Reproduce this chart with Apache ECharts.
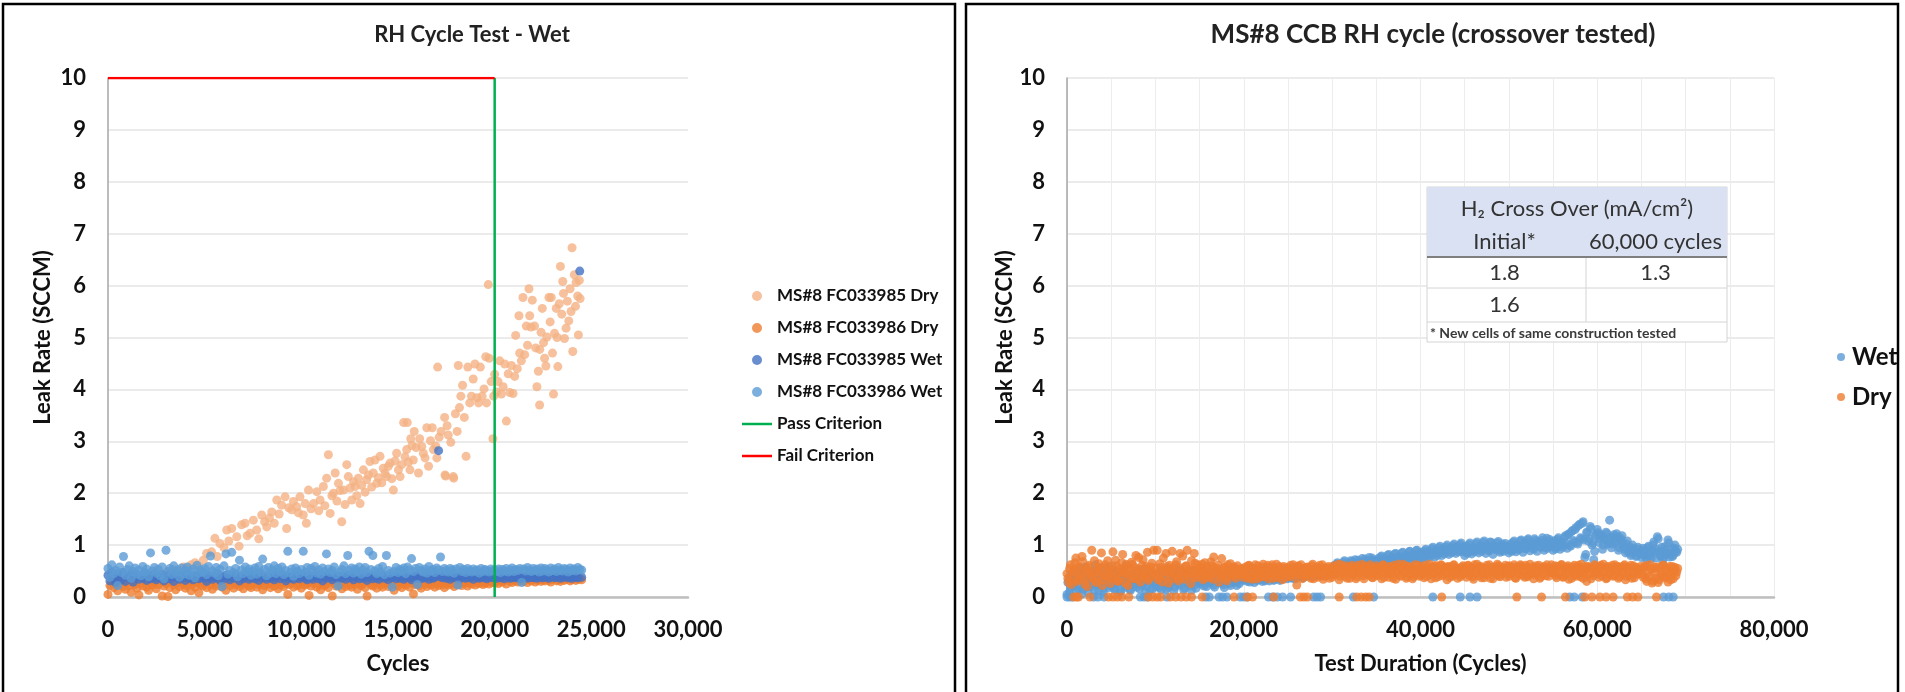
<!DOCTYPE html>
<html><head><meta charset="utf-8">
<script src="https://cdn.jsdelivr.net/npm/echarts@6/dist/echarts.min.js"></script>
<style>html,body{margin:0;padding:0;background:#fff}#c{width:1905px;height:692px}</style>
</head><body><div id="c"></div>
<script>
// ---------------- Left chart: RH Cycle Test - Wet ----------------
const leftTitle = 'RH Cycle Test - Wet';
const leftXTicks = {min: 0, max: 30000, step: 5000};
const yTicks = {min: 0, max: 10, step: 1};
const seriesNamesLeft = ['MS#8 FC033985 Dry', 'MS#8 FC033986 Dry', 'MS#8 FC033985 Wet', 'MS#8 FC033986 Wet', 'Pass Criterion', 'Fail Criterion'];
const passCriterionCycles = 20000;
const failCriterionLeak = 10;

// FC033985 Dry (cycles, leak)
const dryA = [[200,0.35],[600,0.28],[1000,0.42],[1250,0.25],[1500,0.38],[1900,0.31],[2300,0.45],[2700,0.33],[3100,0.48],[3400,0.52],[3700,0.44],[3900,0.58],[4100,0.55],[4300,0.62],[4500,0.66],[4700,0.59],
[4930,0.71],[5100,0.84],[5360,0.87],[5530,1.13],[5790,1.03],[5650,0.78],[6000,0.95],[6140,1.29],[6250,1.08],[6400,1.32],[6660,1.16],[6780,0.98],[6910,1.39],[7090,1.42],[7200,1.18],[7350,1.23],[7520,1.48],[7690,1.29],[7800,1.12],[7950,1.58],[8100,1.45],[8210,1.35],[8350,1.52],[8470,1.64],[8600,1.42],[8730,1.87],[8850,1.60],[8980,1.77],[9160,1.93],[9240,1.32],[9350,1.72],[9500,1.68],[9590,1.84],[9760,1.74],[9850,1.62],[9930,1.93],[10100,1.58],[10200,1.80],[10260,1.42],[10370,2.06],[10500,1.70],[10630,1.80],[10800,2.03],[10900,1.66],[10970,1.87],[11140,2.13],[11220,1.76],[11310,2.29],[11400,2.74],[11490,1.61],[11580,1.95],[11660,2.00],[11750,2.39],[11840,1.85],[11920,2.19],[12000,2.05],[12090,1.45],[12180,2.06],[12260,1.78],[12350,2.55],[12430,2.32],[12520,2.10],[12610,1.87],[12700,2.22],[12780,2.13],[12870,1.95],[12950,2.29],[13040,1.80],[13120,2.15],[13210,2.45],[13300,2.02],[13380,2.26],[13470,2.35],[13550,2.61],[13640,2.12],[13720,2.39],[13810,2.64],[13900,2.19],[13980,2.30],[14070,2.71],[14160,2.20],[14240,2.48],[14330,2.38],[14410,2.32],[14500,2.52],[14590,2.58],[14680,2.28],[14760,2.06],[14850,2.62],[14930,2.77],[15020,2.45],[15110,2.32],[15190,2.55],[15290,3.36],[15360,2.70],[15450,2.84],[15480,3.36],[15540,2.60],[15620,2.45],[15660,3.05],[15720,2.92],[15790,2.64],[15840,3.19],[15940,2.88],[16060,2.39],[16120,3.05],[16230,2.90],[16310,2.77],[16400,2.68],[16490,3.26],[16580,2.52],[16680,3.01],[16770,3.26],[16830,2.84],[16950,2.91],[17010,2.68],[17050,4.43],[17130,3.08],[17230,3.19],[17410,3.46],[17430,2.35],[17470,2.33],[17540,3.30],[17600,3.12],[17730,2.98],[17860,2.32],[17880,2.29],[17970,3.53],[18060,3.19],[18120,4.46],[18180,3.65],[18250,3.87],[18340,4.08],[18430,3.46],[18520,2.71],[18610,4.43],[18710,3.74],[18800,3.87],[18890,4.20],[18980,4.49],[19080,3.84],[19170,3.74],[19260,4.43],[19350,3.87],[19450,4.01],[19540,4.63],[19580,3.74],[19670,6.02],[19720,4.60],[19820,4.15],[19910,3.05],[19950,3.87],[20000,4.29],
[20090,3.95],[20175,4.15],[20260,4.55],[20350,3.91],[20440,4.05],[20522,4.49],[20606,3.39],[20700,4.30],[20780,3.94],[20863,4.46],[20950,3.92],[21033,4.25],[21085,5.04],[21170,4.40],[21256,5.42],[21292,4.70],[21380,4.55],[21463,5.77],[21551,4.67],[21636,5.22],[21700,4.85],[21775,5.94],[21811,5.42],[21880,5.20],[21946,5.72],[22065,5.22],[22120,4.80],[22184,4.05],[22260,4.35],[22324,3.70],[22330,4.77],[22400,5.10],[22464,5.56],[22530,4.90],[22583,4.60],[22650,4.45],[22702,5.01],[22806,5.77],[22870,5.30],[22925,5.77],[22990,4.70],[23044,3.91],[23096,5.08],[23184,5.56],[23230,5.00],[23267,4.44],[23340,5.65],[23402,6.37],[23470,5.45],[23522,6.08],[23560,5.85],[23610,4.98],[23693,5.18],[23760,5.70],[23832,5.32],[23900,5.94],[23950,5.50],[24003,6.73],[24039,4.73],[24122,6.21],[24180,5.60],[24210,6.06],[24293,5.80],[24330,5.05],[24380,6.10],[24420,5.75]];

// Low series, sampled every 100 cycles from 0
const lowStepCycles = 100;
const dryB = [
0.05,0.22,0.31,0.18,0.27,0.12,0.25,0.33,0.20,0.15,0.28,0.22,0.09,0.30,0.24,0.17,0.04,0.26,0.21,0.32,0.19,0.13,0.27,0.23,0.29,
0.16,0.24,0.31,0.02,0.21,0.26,0.01,0.18,0.29,0.23,0.14,0.27,0.20,0.33,0.25,0.17,0.22,0.30,0.12,0.26,0.19,0.28,0.08,0.24,0.21,
0.27,0.18,0.32,0.23,0.15,0.29,0.21,0.25,0.34,0.19,0.26,0.13,0.28,0.22,0.31,0.17,0.24,0.27,0.20,0.30,0.16,0.25,0.29,0.21,0.18,
0.26,0.33,0.19,0.24,0.28,0.14,0.22,0.30,0.25,0.18,0.27,0.21,0.31,0.16,0.23,0.29,0.20,0.26,0.05,0.24,0.28,0.19,0.32,0.22,0.25,
0.17,0.29,0.23,0.26,0.03,0.21,0.27,0.31,0.19,0.24,0.14,0.28,0.22,0.25,0.18,0.30,0.02,0.26,0.21,0.33,0.24,0.16,0.28,0.20,0.27,
0.23,0.19,0.31,0.25,0.15,0.28,0.22,0.26,0.18,0.02,0.30,0.24,0.21,0.27,0.17,0.29,0.23,0.19,0.26,0.32,0.20,0.24,0.28,0.13,0.25,
0.21,0.29,0.18,0.26,0.23,0.31,0.19,0.27,0.06,0.24,0.28,0.22,0.17,0.30,0.25,0.20,0.27,0.23,0.32,0.19,0.26,0.22,0.29,0.24,0.18,
0.27,0.23,0.30,0.25,0.20,0.28,0.24,0.31,0.22,0.26,0.29,0.21,0.27,0.25,0.32,0.23,0.28,0.26,0.30,0.24,0.27,0.29,0.25,0.31,0.28,
0.27,0.31,0.26,0.33,0.29,0.32,0.25,0.34,0.30,0.28,0.33,0.31,0.29,0.35,0.32,0.30,0.34,0.28,0.33,0.31,0.36,0.29,0.32,0.34,0.30,
0.33,0.31,0.35,0.32,0.29,0.34,0.36,0.31,0.33,0.30,0.35,0.32,0.34,0.37,0.31,0.33,0.36,0.32,0.34,0.35,0.33];
const wetA = [
0.42,0.31,0.48,0.36,0.28,0.44,0.39,0.33,0.47,0.30,0.41,0.37,0.45,0.29,0.38,0.43,0.34,0.40,0.36,0.46,0.32,0.39,0.35,0.42,0.37,
0.33,0.40,0.36,0.44,0.31,0.38,0.42,0.35,0.39,0.30,0.43,0.37,0.34,0.41,0.38,0.32,0.45,0.36,0.40,0.33,0.39,0.42,0.35,0.38,0.41,
0.36,0.30,0.43,0.38,0.34,0.40,0.37,0.45,0.32,0.39,0.35,0.42,0.38,0.33,0.41,0.36,0.44,0.37,0.31,0.40,0.35,0.39,0.43,0.34,0.38,
0.41,0.35,0.38,0.32,0.44,0.37,0.40,0.34,0.39,0.36,0.42,0.33,0.38,0.41,0.35,0.43,0.37,0.31,0.40,0.36,0.39,0.34,0.42,0.38,0.35,
0.39,0.43,0.36,0.33,0.40,0.37,0.34,0.41,0.38,0.35,0.42,0.31,0.39,0.36,0.44,0.37,0.33,0.40,0.38,0.35,0.41,0.36,0.39,0.34,0.42,
0.37,0.40,0.33,0.38,0.43,0.35,0.39,0.36,0.41,0.32,0.38,0.42,0.35,0.40,0.37,0.34,0.39,0.43,0.36,0.38,0.33,0.41,0.37,0.40,0.35,
0.39,0.36,0.42,0.34,0.38,0.41,0.37,0.33,0.40,0.36,0.43,0.38,0.35,0.39,0.37,0.42,0.34,0.40,0.36,0.38,0.41,2.82,0.39,0.37,0.43,
0.36,0.40,0.34,0.38,0.42,0.37,0.39,0.35,0.41,0.38,0.36,0.40,0.37,0.39,0.34,0.41,0.38,0.36,0.40,0.37,0.39,0.35,0.38,0.41,0.37,
0.38,0.36,0.40,0.37,0.39,0.35,0.41,0.38,0.36,0.40,0.37,0.39,0.38,0.35,0.41,0.37,0.39,0.36,0.40,0.38,0.37,0.39,0.36,0.41,0.38,
0.37,0.40,0.38,0.36,0.39,0.41,0.37,0.38,0.40,0.36,0.39,0.38,0.41,0.37,0.39,0.36,0.40,0.38,0.37,6.28,0.38];
const wetB = [
0.55,0.38,0.62,0.45,0.51,0.22,0.58,0.47,0.78,0.42,0.53,0.60,0.36,0.49,0.56,0.44,0.52,0.41,0.59,0.48,0.54,0.39,0.85,0.50,0.57,
0.46,0.53,0.41,0.58,0.35,0.90,0.49,0.55,0.43,0.60,0.47,0.52,0.38,0.56,0.44,0.51,0.58,0.42,0.49,0.54,0.37,0.61,0.46,0.52,0.48,
0.55,0.43,0.59,0.79,0.50,0.46,0.57,0.41,0.53,0.20,0.60,0.83,0.44,0.51,0.86,0.47,0.55,0.39,0.71,0.52,0.45,0.58,0.49,0.54,0.42,
0.50,0.56,0.44,0.59,0.48,0.73,0.53,0.41,0.57,0.46,0.52,0.60,0.45,0.55,0.49,0.58,0.43,0.51,0.88,0.47,0.54,0.40,0.56,0.50,0.45,
0.53,0.88,0.48,0.57,0.42,0.55,0.50,0.59,0.46,0.52,0.44,0.56,0.49,0.83,0.54,0.47,0.51,0.58,0.43,0.21,0.48,0.53,0.60,0.45,0.80,
0.51,0.56,0.46,0.54,0.49,0.58,0.44,0.52,0.57,0.47,0.88,0.53,0.80,0.50,0.45,0.55,0.48,0.59,0.43,0.80,0.51,0.46,0.19,0.49,0.57,
0.47,0.53,0.50,0.56,0.45,0.58,0.52,0.74,0.49,0.55,0.24,0.57,0.51,0.48,0.54,0.46,0.59,0.50,0.53,0.47,0.56,0.52,0.77,0.49,0.55,
0.51,0.48,0.55,0.52,0.46,0.54,0.23,0.57,0.49,0.53,0.47,0.55,0.51,0.48,0.54,0.50,0.52,0.46,0.55,0.49,0.53,0.51,0.48,0.54,0.50,
0.52,0.49,0.54,0.47,0.53,0.50,0.55,0.48,0.52,0.56,0.49,0.53,0.51,0.55,0.28,0.54,0.50,0.57,0.52,0.49,0.55,0.51,0.54,0.48,0.56,
0.50,0.55,0.52,0.48,0.56,0.51,0.54,0.49,0.57,0.52,0.50,0.55,0.53,0.48,0.56,0.51,0.54,0.50,0.57,0.53,0.52];

// ---------------- Right chart: MS#8 CCB RH cycle ----------------
const rightTitle = 'MS#8 CCB RH cycle (crossover tested)';
const rightXTicks = {min: 0, max: 80000, step: 20000, minorSplit: 4};
const seriesNamesRight = ['Wet', 'Dry'];
// readings every 200 cycles starting at 0 ("even") and starting at 100 ("odd")
const rightStepCycles = 200;
const wetEven = [
0.05,0.32,0.18,0.45,0.26,0.12,0.38,0.22,0.55,0.15,0.41,0.29,0.08,0.35,0.20,0.48,0.62,0.24,0.11,0.39,0.30,0.17,0.44,0.27,0.58,
0.21,0.36,0.14,0.47,0.28,0.09,0.33,0.52,0.19,0.40,0.25,0.13,0.37,0.23,0.46,0.31,0.16,0.42,0.27,0.55,0.20,0.34,0.12,0.39,0.29,
0.24,0.43,0.18,0.35,0.50,0.27,0.15,0.38,0.22,0.45,0.31,0.19,0.41,0.26,0.53,0.33,0.14,0.37,0.28,0.46,0.21,0.40,0.30,0.17,0.44,
0.32,0.25,0.48,0.36,0.20,0.42,0.29,0.38,0.23,0.45,0.34,0.27,0.40,0.31,0.18,0.43,0.35,0.26,0.41,0.30,0.37,0.22,0.44,0.33,0.39,
0.36,0.42,0.30,0.39,0.34,0.45,0.28,0.40,0.37,0.33,0.43,0.38,0.31,0.41,0.35,0.44,0.39,0.32,0.42,0.37,0.46,0.34,0.40,0.38,0.43,
0.41,0.37,0.45,0.40,0.35,0.44,0.39,0.47,0.42,0.38,0.46,0.41,0.48,0.43,0.40,0.49,0.45,0.42,0.50,0.46,0.44,0.51,0.47,0.52,0.49,
0.45,0.60,0.50,0.66,0.48,0.62,0.55,0.70,0.52,0.64,0.47,0.68,0.58,0.72,0.53,0.66,0.60,0.74,0.56,0.69,0.62,0.76,0.58,0.71,0.65,
0.60,0.74,0.66,0.79,0.62,0.72,0.68,0.82,0.64,0.76,0.70,0.84,0.66,0.78,0.72,0.86,0.68,0.80,0.74,0.88,0.70,0.82,0.76,0.90,0.73,
0.72,0.86,0.78,0.92,0.75,0.88,0.82,0.96,0.77,0.90,0.84,0.98,0.80,0.93,0.86,1.00,0.82,0.95,0.88,1.02,0.84,0.97,0.90,1.04,0.87,
0.80,0.98,0.86,1.04,0.83,0.95,0.90,1.06,0.85,0.99,0.92,1.08,0.84,0.97,0.89,1.05,0.82,0.96,0.91,1.07,0.86,1.00,0.88,1.03,0.93,
0.85,1.02,0.90,1.08,0.87,0.99,0.93,1.10,0.86,1.04,0.95,1.12,0.89,1.01,0.92,1.09,0.88,1.05,0.96,1.14,0.90,1.03,0.94,1.11,0.98,
0.90,1.08,0.96,1.14,0.92,1.05,1.00,1.18,0.94,1.22,0.98,1.28,1.06,1.34,1.02,1.40,1.12,1.45,0.76,1.25,1.08,1.36,1.00,0.72,1.18,
1.30,1.05,1.20,0.92,1.15,1.25,1.02,1.48,0.95,1.16,1.04,1.22,0.90,1.10,1.18,0.97,0.85,1.08,0.90,0.80,1.00,0.87,0.78,0.96,0.84,
0.76,0.94,0.82,0.72,0.98,0.80,0.90,1.06,0.75,1.16,0.88,0.79,0.70,0.97,0.84,1.10,0.77,0.95,0.81,1.00,0.86];
const wetOdd = [
0.28,0.10,0.40,0.21,0.52,0.33,0.16,0.45,0.06,0.30,0.58,0.19,0.37,0.25,0.49,0.13,0.34,0.43,0.22,0.56,0.09,0.31,0.47,0.18,0.40,
0.35,0.17,0.50,0.26,0.41,0.12,0.38,0.23,0.60,0.30,0.15,0.44,0.27,0.36,0.19,0.53,0.33,0.22,0.48,0.11,0.39,0.28,0.45,0.16,0.34,
0.20,0.47,0.31,0.14,0.39,0.25,0.55,0.18,0.42,0.29,0.12,0.36,0.49,0.23,0.33,0.41,0.17,0.46,0.26,0.38,0.13,0.51,0.24,0.35,0.28,
0.41,0.30,0.21,0.46,0.35,0.27,0.50,0.33,0.19,0.39,0.44,0.28,0.36,0.24,0.47,0.31,0.40,0.22,0.37,0.45,0.29,0.34,0.26,0.42,0.32,
0.39,0.33,0.44,0.29,0.41,0.36,0.47,0.32,0.38,0.43,0.30,0.40,0.35,0.46,0.31,0.42,0.37,0.34,0.45,0.39,0.32,0.44,0.36,0.41,0.35,
0.44,0.40,0.36,0.48,0.42,0.39,0.46,0.43,0.37,0.50,0.44,0.41,0.47,0.39,0.51,0.45,0.43,0.48,0.41,0.53,0.47,0.44,0.50,0.46,0.54,
0.56,0.49,0.63,0.53,0.58,0.51,0.67,0.57,0.61,0.54,0.70,0.59,0.63,0.56,0.71,0.61,0.65,0.58,0.73,0.63,0.67,0.60,0.75,0.66,0.69,
0.70,0.63,0.77,0.68,0.73,0.65,0.80,0.71,0.75,0.67,0.83,0.73,0.77,0.70,0.85,0.75,0.79,0.72,0.87,0.77,0.81,0.74,0.89,0.80,0.84,
0.80,0.74,0.89,0.81,0.85,0.78,0.93,0.83,0.87,0.80,0.95,0.86,0.90,0.83,0.97,0.88,0.92,0.85,0.99,0.90,0.94,0.87,1.01,0.92,0.96,
0.91,0.84,1.01,0.89,0.94,0.87,1.03,0.92,0.97,0.88,1.05,0.94,0.99,0.90,1.06,0.95,1.00,0.92,1.04,0.96,0.89,1.02,0.94,0.98,0.91,
0.96,0.88,1.05,0.94,1.00,0.91,1.08,0.97,1.02,0.93,1.10,0.99,1.04,0.95,1.12,1.01,1.06,0.97,1.09,1.03,0.95,1.13,1.00,1.07,0.98,
1.02,0.93,1.11,0.99,1.06,0.96,1.15,1.03,1.20,1.00,1.26,1.09,1.30,1.05,1.38,1.14,1.42,1.10,0.82,1.24,1.12,1.32,1.04,0.88,1.21,
1.24,1.12,1.18,1.00,1.10,1.22,1.06,1.14,1.02,1.20,1.08,1.16,0.95,1.12,1.04,0.92,1.02,0.86,0.96,0.83,0.94,0.88,0.80,0.92,0.86,
0.82,0.90,0.78,0.95,0.84,0.74,1.00,0.86,0.92,1.12,0.80,0.96,0.76,0.90,0.82,1.04,0.85,0.78,0.94,0.88,0.92];
const dryEven = [
0.45,0.28,0.62,0.38,0.51,0.75,0.33,0.56,0.42,0.68,0.25,0.49,0.58,0.36,0.90,0.47,0.31,0.53,0.64,0.40,0.22,0.57,0.44,0.70,0.35,
0.52,0.87,0.39,0.60,0.30,0.48,0.66,0.55,0.27,0.43,0.58,0.37,0.63,0.50,0.80,0.34,0.54,0.46,0.72,0.41,0.59,0.32,0.51,0.65,0.90,
0.45,0.90,0.38,0.57,0.29,0.52,0.84,0.47,0.61,0.35,0.55,0.42,0.68,0.31,0.84,0.50,0.40,0.59,0.90,0.46,0.26,0.53,0.84,0.37,0.62,
0.48,0.57,0.33,0.66,0.44,0.52,0.38,0.60,0.77,0.46,0.55,0.29,0.50,0.42,0.58,0.36,0.62,0.47,0.53,0.40,0.56,0.45,0.51,0.43,0.54,
0.45,0.58,0.36,0.61,0.49,0.34,0.55,0.42,0.60,0.38,0.52,0.63,0.40,0.57,0.35,0.48,0.62,0.44,0.53,0.37,0.59,0.46,0.33,0.56,0.50,
0.57,0.39,0.52,0.62,0.43,0.23,0.60,0.47,0.35,0.55,0.41,0.58,0.49,0.36,0.63,0.45,0.53,0.38,0.61,0.46,0.34,0.56,0.42,0.59,0.50,
0.38,0.60,0.45,0.55,0.33,0.62,0.48,0.40,0.57,0.52,0.36,0.61,0.44,0.58,0.39,0.54,0.47,0.63,0.35,0.51,0.59,0.42,0.56,0.37,0.53,
0.60,0.41,0.55,0.35,0.62,0.47,0.53,0.38,0.58,0.44,0.61,0.34,0.50,0.57,0.40,0.63,0.46,0.36,0.59,0.43,0.54,0.39,0.62,0.48,0.56,
0.42,0.59,0.37,0.54,0.48,0.63,0.35,0.57,0.45,0.60,0.39,0.52,0.61,0.44,0.56,0.33,0.58,0.47,0.40,0.62,0.50,0.36,0.55,0.43,0.60,
0.55,0.38,0.61,0.46,0.57,0.34,0.52,0.63,0.41,0.59,0.48,0.37,0.56,0.44,0.62,0.50,0.35,0.58,0.43,0.60,0.39,0.54,0.47,0.61,0.45,
0.40,0.57,0.49,0.62,0.36,0.55,0.44,0.60,0.51,0.38,0.58,0.42,0.63,0.47,0.35,0.56,0.45,0.61,0.39,0.53,0.59,0.41,0.55,0.48,0.62,
0.46,0.60,0.37,0.56,0.43,0.62,0.39,0.53,0.58,0.34,0.55,0.48,0.61,0.40,0.57,0.45,0.63,0.36,0.52,0.30,0.59,0.44,0.56,0.41,0.60,
0.54,0.38,0.61,0.47,0.57,0.35,0.59,0.43,0.55,0.40,0.62,0.49,0.36,0.58,0.45,0.60,0.33,0.56,0.42,0.61,0.48,0.37,0.57,0.44,0.53,
0.51,0.38,0.60,0.30,0.47,0.62,0.27,0.55,0.36,0.58,0.33,0.45,0.61,0.40,0.56,0.29,0.59,0.43,0.35,0.57,0.48];
const dryOdd = [
0.36,0.55,0.24,0.48,0.66,0.30,0.59,0.42,0.78,0.34,0.52,0.20,0.61,0.45,0.38,0.70,0.28,0.57,0.47,0.85,0.33,0.62,0.40,0.53,0.26,
0.60,0.43,0.71,0.31,0.54,0.38,0.82,0.46,0.63,0.22,0.50,0.67,0.35,0.57,0.44,0.76,0.29,0.61,0.39,0.53,0.86,0.36,0.58,0.47,0.41,
0.56,0.33,0.64,0.48,0.75,0.40,0.59,0.27,0.52,0.88,0.44,0.62,0.36,0.57,0.49,0.79,0.34,0.60,0.42,0.53,0.70,0.38,0.65,0.46,0.55,
0.40,0.63,0.51,0.37,0.59,0.45,0.68,0.34,0.56,0.48,0.61,0.39,0.74,0.44,0.57,0.31,0.52,0.64,0.42,0.58,0.36,0.60,0.47,0.55,0.38,
0.53,0.41,0.60,0.37,0.56,0.47,0.62,0.35,0.51,0.44,0.58,0.39,0.54,0.61,0.43,0.57,0.36,0.50,0.63,0.40,0.55,0.48,0.59,0.38,0.52,
0.42,0.61,0.48,0.55,0.37,0.59,0.44,0.62,0.51,0.39,0.57,0.46,0.53,0.60,0.35,0.50,0.58,0.43,0.54,0.62,0.40,0.49,0.56,0.36,0.47,
0.57,0.43,0.52,0.63,0.40,0.55,0.46,0.60,0.36,0.50,0.58,0.44,0.54,0.35,0.61,0.48,0.56,0.41,0.59,0.45,0.53,0.62,0.38,0.57,0.46,
0.44,0.56,0.49,0.61,0.38,0.54,0.45,0.59,0.52,0.36,0.57,0.48,0.63,0.42,0.55,0.47,0.60,0.39,0.53,0.58,0.35,0.51,0.45,0.61,0.40,
0.55,0.46,0.61,0.40,0.58,0.43,0.52,0.60,0.37,0.54,0.49,0.62,0.41,0.57,0.47,0.59,0.38,0.53,0.61,0.44,0.56,0.50,0.39,0.58,0.45,
0.48,0.60,0.42,0.56,0.39,0.62,0.46,0.53,0.58,0.37,0.55,0.44,0.61,0.49,0.36,0.57,0.47,0.52,0.63,0.41,0.58,0.45,0.54,0.38,0.59,
0.60,0.45,0.53,0.37,0.59,0.48,0.62,0.42,0.55,0.61,0.39,0.52,0.46,0.58,0.43,0.60,0.50,0.36,0.57,0.44,0.54,0.62,0.40,0.56,0.47,
0.53,0.41,0.59,0.47,0.62,0.38,0.56,0.45,0.60,0.50,0.36,0.58,0.43,0.55,0.61,0.39,0.52,0.47,0.59,0.44,0.57,0.35,0.54,0.62,0.46,
0.45,0.58,0.41,0.63,0.50,0.37,0.56,0.47,0.61,0.42,0.53,0.59,0.39,0.55,0.46,0.62,0.40,0.57,0.49,0.36,0.60,0.44,0.54,0.51,0.59,
0.44,0.57,0.35,0.60,0.40,0.54,0.31,0.58,0.46,0.28,0.56,0.42,0.61,0.37,0.52,0.45,0.33,0.59,0.49,0.41,0.55];
// cycles at which a zero reading was logged
const wetZeroCycles = [0,300,600,3000,3500,4200,8300,8700,9100,11300,15700,16100,17200,17600,18100,19600,20000,20400,22800,23300,23800,24400,25300,27900,28300,28700,32400,34700,41400,44500,45600,46400,56900,57400,58300,67500,68100,68600];
const dryZeroCycles = [750,1100,1300,2600,4700,5200,5700,6200,7000,9200,9700,10200,10600,11700,12300,12900,13500,14100,15300,18900,20400,21000,23400,26400,26800,27200,30800,32800,33300,33800,34200,42400,50900,53700,56400,58600,59400,60300,61000,61800,63400,64000,64600,66700];

// Inset table
const tableTitle = 'H\u2082 Cross Over (mA/cm\u00B2)';
const tableCols = ['Initial*', '60,000 cycles'];
const tableRows = [['1.8', '1.3'], ['1.6', '']];
const tableNote = '* New cells of same construction tested';

// ---------------- build ----------------
const FONT = 'Lato, "Open Sans", "Liberation Sans", sans-serif';
const TXT = '#111';
const seq = (arr, step, start) => arr.map((v, i) => [start + i * step, v]);
const zeros = xs => xs.map(x => [x, 0]);
const fmt = v => v.toLocaleString('en-US');

const boldLabel = {fontFamily: FONT, fontWeight: 'bold', fontSize: 22, color: TXT};
const nameStyle = {fontFamily: FONT, fontWeight: 'bold', fontSize: 22, color: TXT};
const gridLine = {color: '#e4e4e4', width: 1.5};
const lineIcon = 'path://M0,0H30V2.5H0Z';

function yAxisFor(gi, gap) {
  return {gridIndex: gi, type: 'value', min: yTicks.min, max: yTicks.max, interval: yTicks.step,
    axisLine: {show: true, lineStyle: {color: '#a6a6a6', width: 1.5}}, axisTick: {show: false},
    splitLine: {show: true, lineStyle: gridLine},
    axisLabel: Object.assign({margin: 22}, boldLabel),
    name: 'Leak Rate (SCCM)', nameLocation: 'middle', nameGap: gap, nameTextStyle: nameStyle};
}

const sym = 9;
const option = {
  animation: false,
  backgroundColor: '#fff',
  title: [
    {text: leftTitle, left: 472, top: 24, textAlign: 'center', padding: 0,
      textStyle: {fontFamily: FONT, fontWeight: 'bold', fontSize: 22, color: '#222'}},
    {text: rightTitle, left: 1433, top: 22, textAlign: 'center', padding: 0,
      textStyle: {fontFamily: FONT, fontWeight: 'bold', fontSize: 26, color: '#222'}}
  ],
  grid: [
    {left: 108, top: 78, width: 580, height: 519},
    {left: 1067, top: 78, width: 707, height: 519}
  ],
  xAxis: [
    {gridIndex: 0, type: 'value', min: leftXTicks.min, max: leftXTicks.max, interval: leftXTicks.step,
      axisLine: {show: true, lineStyle: {color: '#bfbfbf', width: 2.5}}, axisTick: {show: false},
      splitLine: {show: false},
      axisLabel: Object.assign({margin: 22, formatter: fmt}, boldLabel),
      name: 'Cycles', nameLocation: 'middle', nameGap: 56, nameTextStyle: nameStyle},
    {gridIndex: 1, type: 'value', min: rightXTicks.min, max: rightXTicks.max, interval: rightXTicks.step,
      axisLine: {show: true, lineStyle: {color: '#bfbfbf', width: 2.5}}, axisTick: {show: false},
      splitLine: {show: true, lineStyle: {color: '#ececec', width: 1}},
      minorTick: {show: false, splitNumber: rightXTicks.minorSplit},
      minorSplitLine: {show: true, lineStyle: {color: '#ececec', width: 1}},
      axisLabel: Object.assign({margin: 22, formatter: fmt}, boldLabel),
      name: 'Test Duration (Cycles)', nameLocation: 'middle', nameGap: 56, nameTextStyle: nameStyle}
  ],
  yAxis: [yAxisFor(0, 54), yAxisFor(1, 46)],
  legend: [
    {orient: 'vertical', left: 742, top: 286, padding: 0, itemWidth: 30, itemHeight: 10, itemGap: 12,
      symbolKeepAspect: true,
      textStyle: {fontFamily: FONT, fontWeight: 'bold', fontSize: 17, color: TXT, lineHeight: 20},
      data: seriesNamesLeft.map((n, i) => ({name: n, icon: i < 4 ? 'circle' : lineIcon}))},
    {orient: 'vertical', left: 1837, top: 345, padding: 0, itemWidth: 12, itemHeight: 8, itemGap: 16,
      textStyle: {fontFamily: FONT, fontWeight: 'bold', fontSize: 24, color: TXT, lineHeight: 24},
      data: seriesNamesRight.map(n => ({name: n, icon: 'circle'}))}
  ],
  series: [
    {name: seriesNamesLeft[0], type: 'scatter', xAxisIndex: 0, yAxisIndex: 0, symbolSize: sym,
      itemStyle: {color: '#f4b183'}, data: dryA},
    {name: seriesNamesLeft[1], type: 'scatter', xAxisIndex: 0, yAxisIndex: 0, symbolSize: sym,
      itemStyle: {color: '#ed7d31'}, data: seq(dryB, lowStepCycles, 0)},
    {name: seriesNamesLeft[2], type: 'scatter', xAxisIndex: 0, yAxisIndex: 0, symbolSize: sym,
      itemStyle: {color: '#4472c4'}, data: seq(wetA, lowStepCycles, 0)},
    {name: seriesNamesLeft[3], type: 'scatter', xAxisIndex: 0, yAxisIndex: 0, symbolSize: sym,
      itemStyle: {color: '#5b9bd5'}, data: seq(wetB, lowStepCycles, 0)},
    {name: seriesNamesLeft[4], type: 'line', xAxisIndex: 0, yAxisIndex: 0, symbol: 'none',
      lineStyle: {color: '#00b050', width: 2.5}, itemStyle: {color: '#00b050'},
      data: [[passCriterionCycles, yTicks.min], [passCriterionCycles, failCriterionLeak]]},
    {name: seriesNamesLeft[5], type: 'line', xAxisIndex: 0, yAxisIndex: 0, symbol: 'none',
      lineStyle: {color: '#ff0000', width: 2.5}, itemStyle: {color: '#ff0000'},
      data: [[leftXTicks.min, failCriterionLeak], [passCriterionCycles, failCriterionLeak]]},
    {name: 'Wet', type: 'scatter', xAxisIndex: 1, yAxisIndex: 1, symbolSize: sym,
      itemStyle: {color: '#5b9bd5'},
      data: seq(wetEven, rightStepCycles, 0).concat(seq(wetOdd, rightStepCycles, 100), zeros(wetZeroCycles))},
    {name: 'Dry', type: 'scatter', xAxisIndex: 1, yAxisIndex: 1, symbolSize: sym,
      itemStyle: {color: '#ed7d31'},
      data: seq(dryEven, rightStepCycles, 0).concat(seq(dryOdd, rightStepCycles, 100), zeros(dryZeroCycles))}
  ]
};

// panel frames and inset table (decoration)
const TX0 = 1427, TX1 = 1727, TXM = 1586, TY = [187, 257, 288, 322, 342];
const colC = [(TX0 + TXM) / 2 - 2, (TXM + TX1) / 2 - 1];
const tFont = {fontFamily: FONT, fontSize: 22, fill: '#333', align: 'center', verticalAlign: 'middle'};
const g = [
  {type: 'rect', shape: {x: 3, y: 4, width: 952, height: 700}, style: {fill: 'none', stroke: '#000', lineWidth: 2.5}, z: 100},
  {type: 'rect', shape: {x: 966, y: 4, width: 932, height: 700}, style: {fill: 'none', stroke: '#000', lineWidth: 2.5}, z: 100},
  {type: 'rect', shape: {x: TX0, y: TY[0], width: TX1 - TX0, height: TY[4] - TY[0]}, style: {fill: '#fff', stroke: '#d4d4d4', lineWidth: 1}, z: 50},
  {type: 'rect', shape: {x: TX0, y: TY[0], width: TX1 - TX0, height: TY[1] - TY[0]}, style: {fill: '#d9e1f2'}, z: 51},
  {type: 'line', shape: {x1: TX0, y1: TY[2], x2: TX1, y2: TY[2]}, style: {stroke: '#d4d4d4', lineWidth: 1}, z: 51},
  {type: 'line', shape: {x1: TX0, y1: TY[3], x2: TX1, y2: TY[3]}, style: {stroke: '#d4d4d4', lineWidth: 1}, z: 51},
  {type: 'line', shape: {x1: TXM, y1: TY[1], x2: TXM, y2: TY[3]}, style: {stroke: '#d4d4d4', lineWidth: 1}, z: 51},
  {type: 'line', shape: {x1: TX0, y1: TY[1], x2: TX1, y2: TY[1]}, style: {stroke: '#7f7f7f', lineWidth: 2}, z: 52},
  {type: 'text', x: (TX0 + TX1) / 2, y: 209, style: Object.assign({text: tableTitle}, tFont), z: 53},
  {type: 'text', x: colC[0], y: 242, style: Object.assign({text: tableCols[0]}, tFont), z: 53},
  {type: 'text', x: colC[1], y: 242, style: Object.assign({text: tableCols[1]}, tFont), z: 53},
  {type: 'text', x: TX0 + 3, y: 333, style: {text: tableNote, fontFamily: FONT, fontSize: 14, fontWeight: 'bold', fill: '#3a3a3a', align: 'left', verticalAlign: 'middle'}, z: 53}
];
tableRows.forEach((row, r) => row.forEach((cell, c) => {
  g.push({type: 'text', x: colC[c], y: (TY[r + 1] + TY[r + 2]) / 2, style: Object.assign({text: cell}, tFont), z: 53});
}));
option.graphic = {elements: g};

const chart = echarts.init(document.getElementById('c'), null, {renderer: 'canvas'});
chart.setOption(option);
</script></body></html>
